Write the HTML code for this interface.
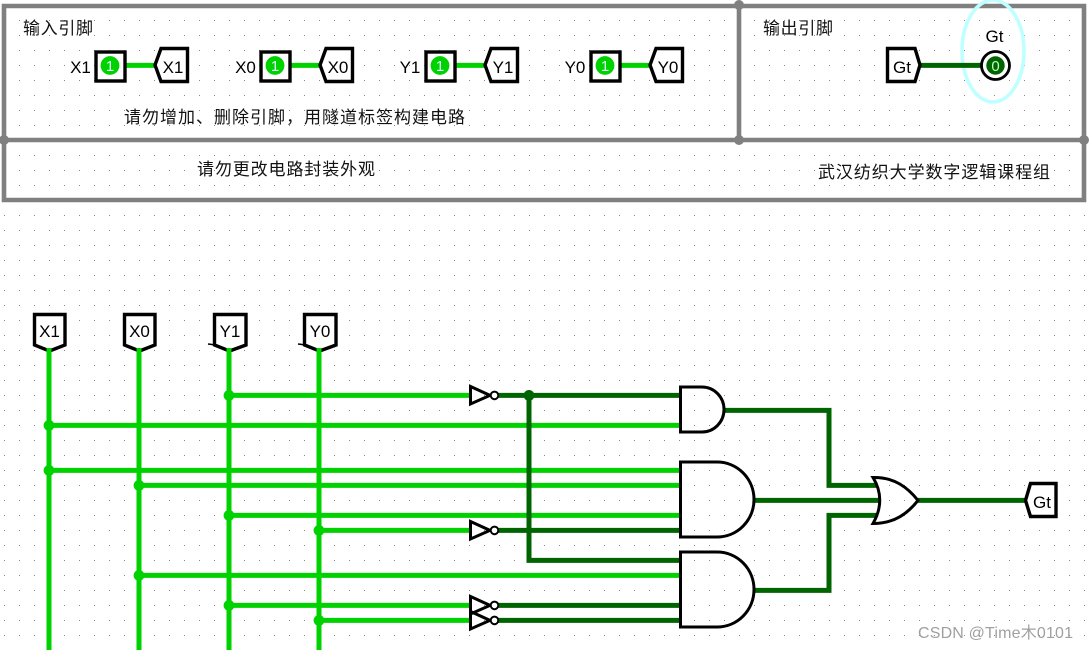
<!DOCTYPE html>
<html><head><meta charset="utf-8"><style>
html,body{margin:0;padding:0;background:#fff;width:1089px;height:650px;overflow:hidden}
svg{display:block}
.l{font:17px "Liberation Sans",sans-serif;fill:#000;text-anchor:middle}
.c{font:17px "WenQuanYi Zen Hei","Liberation Sans","Noto Sans CJK SC",sans-serif;fill:#111}
.g{stroke:#00d200;stroke-width:5;fill:none}
.d{stroke:#006400;stroke-width:5;fill:none}
.b{stroke:#000;stroke-width:3.4;fill:#fff}
.n{stroke:#000;stroke-width:3;fill:none}
.f{stroke:#808080;stroke-width:4.6;fill:none}
</style></head><body>
<svg width="1089" height="650" viewBox="0 0 1089 650" xmlns="http://www.w3.org/2000/svg">
<defs><pattern id="p" x="4" y="5" width="15" height="15" patternUnits="userSpaceOnUse"><rect width="1" height="1" fill="#888"/></pattern></defs>
<rect width="1089" height="650" fill="#fff"/>
<rect width="1089" height="650" fill="url(#p)"/>

<!-- frame -->
<path class="f" d="M4 6H1084V200H4ZM4 140H1084M739 6V140"/>
<g fill="#808080"><circle cx="4" cy="140" r="5"/><circle cx="739" cy="5" r="5"/><circle cx="739" cy="140" r="5"/><circle cx="1084" cy="140" r="5"/></g>

<text class="c" x="23" y="34" textLength="70">输入引脚</text>
<text class="c" x="763" y="34" textLength="70">输出引脚</text>
<text class="c" x="124" y="123" textLength="341">请勿增加、删除引脚，用隧道标签构建电路</text>
<text class="c" x="197" y="175" textLength="178">请勿更改电路封装外观</text>
<text class="c" x="818" y="178" textLength="232">武汉纺织大学数字逻辑课程组</text>

<!-- input pins -->
<g>
<path class="g" d="M125 65.4H155"/>
<rect class="b" x="96" y="52" width="29" height="29"/>
<circle cx="110" cy="65.5" r="9.4" fill="#00d200"/>
<text x="110" y="71" font-family="Liberation Sans" font-size="15" text-anchor="middle" fill="#dff">1</text>
<path class="b" d="M155 65L161 48.5H187.5V81.5H161Z"/>
<text class="l" x="173" y="73">X1</text>
<text class="l" x="80.5" y="73">X1</text>
</g>
<g transform="translate(165 0)">
<path class="g" d="M125 65.4H155"/>
<rect class="b" x="96" y="52" width="29" height="29"/>
<circle cx="110" cy="65.5" r="9.4" fill="#00d200"/>
<text x="110" y="71" font-family="Liberation Sans" font-size="15" text-anchor="middle" fill="#dff">1</text>
<path class="b" d="M155 65L161 48.5H187.5V81.5H161Z"/>
<text class="l" x="173" y="73">X0</text>
<text class="l" x="80.5" y="73">X0</text>
</g>
<g transform="translate(330 0)">
<path class="g" d="M125 65.4H155"/>
<rect class="b" x="96" y="52" width="29" height="29"/>
<circle cx="110" cy="65.5" r="9.4" fill="#00d200"/>
<text x="110" y="71" font-family="Liberation Sans" font-size="15" text-anchor="middle" fill="#dff">1</text>
<path class="b" d="M155 65L161 48.5H187.5V81.5H161Z"/>
<text class="l" x="173" y="73">Y1</text>
<text class="l" x="80" y="73">Y1</text>
</g>
<g transform="translate(495 0)">
<path class="g" d="M125 65.4H155"/>
<rect class="b" x="96" y="52" width="29" height="29"/>
<circle cx="110" cy="65.5" r="9.4" fill="#00d200"/>
<text x="110" y="71" font-family="Liberation Sans" font-size="15" text-anchor="middle" fill="#dff">1</text>
<path class="b" d="M155 65L161 48.5H187.5V81.5H161Z"/>
<text class="l" x="173" y="73">Y0</text>
<text class="l" x="80" y="73">Y0</text>
</g>

<!-- output pin -->
<ellipse cx="993" cy="51" rx="31" ry="51" fill="none" stroke="#c0ffff" stroke-width="3.6"/>
<path class="d" d="M919 65.4H982"/>
<path class="b" d="M887.5 48.5H915L920 65L915 81.5H887.5Z"/>
<text class="l" x="902" y="73">Gt</text>
<text class="l" x="994.5" y="42">Gt</text>
<circle cx="995.5" cy="65.5" r="14" fill="#fff" stroke="#000" stroke-width="2.8"/>
<circle cx="995.5" cy="65.5" r="9.2" fill="#006400"/>
<text x="995.5" y="71" font-family="Liberation Sans" font-size="15" text-anchor="middle" fill="#bfb">0</text>

<!-- green wires -->
<path class="g" d="M49 349V650M139 349V650M229 349V650M319 349V650"/>
<path class="g" d="M229 395.4H470M49 425.4H680M49 470.4H680M139 485.4H680M229 515.4H680M319 530.4H470M139 575.4H680M229 605.4H470M319 620.4H470"/>
<g fill="#00d200">
<circle cx="229" cy="395.4" r="5.4"/><circle cx="49" cy="425.4" r="5.4"/><circle cx="49" cy="470.4" r="5.4"/>
<circle cx="139" cy="485.4" r="5.4"/><circle cx="229" cy="515.4" r="5.4"/><circle cx="319" cy="530.4" r="5.4"/>
<circle cx="139" cy="575.4" r="5.4"/><circle cx="229" cy="605.4" r="5.4"/><circle cx="319" cy="620.4" r="5.4"/>
</g>

<!-- dark wires -->
<path class="d" d="M498 395.4H680M498 530.4H680M498 605.4H680M498 620.4H680"/>
<path class="d" d="M529 395.4V560.4H680"/>
<circle cx="529" cy="395.4" r="5.4" fill="#006400"/>
<path class="d" d="M723 410.4H829V485.4H876M754 500.4H879M754 590.4H829V515.4H876M917 500.4H1026"/>

<!-- top tunnels -->
<g>
<path class="b" d="M34.5 314.5H65V345L49.5 351L34.5 345Z"/>
<path class="b" d="M124.5 314.5H155V345L139.5 351L124.5 345Z"/>
<path class="b" d="M214.5 314.5H246V345L229.5 351L214.5 345Z"/>
<path class="b" d="M304.5 314.5H336V345L319.5 351L304.5 345Z"/>
<path d="M208 344L216 345M298 344L306 345" stroke="#000" stroke-width="1.5"/>
<text class="l" x="49.5" y="337">X1</text>
<text class="l" x="139.5" y="337">X0</text>
<text class="l" x="230" y="337">Y1</text>
<text class="l" x="320" y="337">Y0</text>
</g>
<path class="g" d="M49 348V356M139 348V356M229 348V356M319 348V356"/>

<!-- inverters -->
<g>
<path class="n" d="M470.5 386.5V404L490 395.4Z"/>
<circle cx="494.5" cy="395.4" r="3.8" fill="#fff" stroke="#000" stroke-width="2"/>
</g>
<g transform="translate(0 135)"><path class="n" d="M470.5 386.5V404L490 395.4Z"/><circle cx="494.5" cy="395.4" r="3.8" fill="#fff" stroke="#000" stroke-width="2"/></g>
<g transform="translate(0 210)"><path class="n" d="M470.5 386.5V404L490 395.4Z"/><circle cx="494.5" cy="395.4" r="3.8" fill="#fff" stroke="#000" stroke-width="2"/></g>
<g transform="translate(0 225)"><path class="n" d="M470.5 386.5V404L490 395.4Z"/><circle cx="494.5" cy="395.4" r="3.8" fill="#fff" stroke="#000" stroke-width="2"/></g>

<!-- AND gates -->
<path class="n" d="M680.5 387H702A22 22.5 0 0 1 702 432H680.5Z"/>
<path class="n" d="M680.5 462H717A37 37.5 0 0 1 717 537H680.5Z"/>
<path class="n" d="M680.5 552H717A37 37.5 0 0 1 717 627H680.5Z"/>

<!-- OR gate -->
<path class="n" d="M873 477.5C895 477 908 488 918 500.4C908 513 895 523.5 873 523.5C882 508 882 492 873 477.5Z"/>

<!-- output tunnel -->
<path class="b" d="M1025.5 500.4L1030.5 483.5H1056V516.5H1030.5Z"/>
<text class="l" x="1042" y="508">Gt</text>

<!-- watermark -->
<text x="918" y="638" font-family="Liberation Sans,Noto Sans CJK SC,sans-serif" font-size="16" fill="#a0a0a0" textLength="155">CSDN @Time木0101</text>
</svg>
</body></html>
